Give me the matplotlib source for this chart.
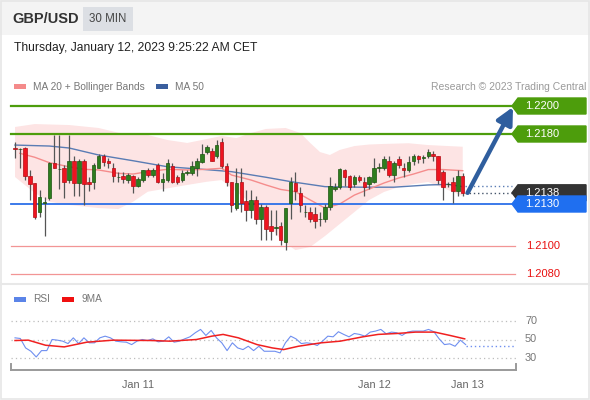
import matplotlib
matplotlib.use("Agg")
import matplotlib.pyplot as plt
from matplotlib.patches import Polygon, Rectangle
from matplotlib.lines import Line2D
import numpy as np

plt.rcParams['font.family'] = ['Liberation Sans', 'DejaVu Sans']

# 30 min candles, GBP/USD
opens = [1.2170, 1.2169, 1.2170, 1.2150, 1.2145, 1.2124, 1.2131, 1.2134, 1.2159, 1.2155,
         1.2156, 1.2147, 1.2161, 1.2145, 1.2161, 1.2146, 1.2146, 1.2156, 1.2164, 1.2161,
         1.2156, 1.2149, 1.2150, 1.2147, 1.2150, 1.2143, 1.2147, 1.2154, 1.2151, 1.2158,
         1.2146, 1.2147, 1.2157, 1.2149, 1.2147, 1.2152, 1.2152, 1.2156, 1.2160, 1.2167,
         1.2168, 1.2164, 1.2174, 1.2157, 1.2146, 1.2127, 1.2146, 1.2132, 1.2126, 1.2133,
         1.2119, 1.2128, 1.2114, 1.2113, 1.2114, 1.2103, 1.2131, 1.2145, 1.2138, 1.2124,
         1.2124, 1.2123, 1.2119, 1.2119, 1.2128, 1.2141, 1.2142, 1.2154, 1.2150, 1.2144,
         1.2149, 1.2146, 1.2144, 1.2146, 1.2156, 1.2156, 1.2161, 1.2151, 1.2162, 1.2156,
         1.2154, 1.2161, 1.2164, 1.2163, 1.2164, 1.2166, 1.2164, 1.2153, 1.2144, 1.2146,
         1.2139, 1.2150]
highs = [1.2174, 1.2170, 1.2171, 1.2154, 1.2145, 1.2140, 1.2135, 1.2160, 1.2179, 1.2179,
         1.2158, 1.2179, 1.2164, 1.2162, 1.2162, 1.2149, 1.2159, 1.2166, 1.2166, 1.2163,
         1.2159, 1.2153, 1.2153, 1.2152, 1.2151, 1.2149, 1.2154, 1.2156, 1.2156, 1.2159,
         1.2152, 1.2162, 1.2159, 1.2151, 1.2154, 1.2154, 1.2161, 1.2163, 1.2173, 1.2172,
         1.2170, 1.2176, 1.2177, 1.2159, 1.2146, 1.2156, 1.2156, 1.2140, 1.2140, 1.2136,
         1.2130, 1.2129, 1.2126, 1.2126, 1.2117, 1.2127, 1.2149, 1.2153, 1.2142, 1.2129,
         1.2128, 1.2128, 1.2124, 1.2130, 1.2149, 1.2145, 1.2156, 1.2155, 1.2151, 1.2151,
         1.2151, 1.2149, 1.2150, 1.2163, 1.2159, 1.2164, 1.2164, 1.2161, 1.2164, 1.2159,
         1.2164, 1.2166, 1.2165, 1.2165, 1.2169, 1.2168, 1.2164, 1.2154, 1.2146, 1.2149,
         1.2154, 1.2152]
lows = [1.2163, 1.2156, 1.2147, 1.2133, 1.2119, 1.2121, 1.2107, 1.2133, 1.2156, 1.2141,
        1.2134, 1.2145, 1.2136, 1.2136, 1.2129, 1.2139, 1.2141, 1.2156, 1.2157, 1.2156,
        1.2146, 1.2146, 1.2145, 1.2145, 1.2138, 1.2142, 1.2146, 1.2149, 1.2149, 1.2145,
        1.2139, 1.2146, 1.2145, 1.2144, 1.2146, 1.2151, 1.2151, 1.2150, 1.2159, 1.2166,
        1.2161, 1.2163, 1.2156, 1.2143, 1.2124, 1.2126, 1.2124, 1.2118, 1.2120, 1.2116,
        1.2104, 1.2104, 1.2104, 1.2108, 1.2101, 1.2097, 1.2119, 1.2133, 1.2124, 1.2121,
        1.2117, 1.2113, 1.2114, 1.2117, 1.2126, 1.2139, 1.2141, 1.2143, 1.2140, 1.2142,
        1.2146, 1.2136, 1.2141, 1.2145, 1.2153, 1.2154, 1.2149, 1.2146, 1.2156, 1.2149,
        1.2153, 1.2158, 1.2159, 1.2159, 1.2163, 1.2161, 1.2144, 1.2133, 1.2142, 1.2131,
        1.2136, 1.2136]
closes = [1.2169, 1.2169, 1.2150, 1.2144, 1.2121, 1.2135, 1.2131, 1.2159, 1.2156, 1.2155,
          1.2146, 1.2161, 1.2145, 1.2161, 1.2144, 1.2144, 1.2158, 1.2164, 1.2160, 1.2159,
          1.2150, 1.2149, 1.2148, 1.2151, 1.2143, 1.2148, 1.2154, 1.2151, 1.2154, 1.2146,
          1.2148, 1.2159, 1.2146, 1.2146, 1.2152, 1.2153, 1.2157, 1.2161, 1.2166, 1.2171,
          1.2161, 1.2172, 1.2157, 1.2146, 1.2129, 1.2145, 1.2131, 1.2126, 1.2133, 1.2119,
          1.2128, 1.2112, 1.2111, 1.2113, 1.2104, 1.2127, 1.2146, 1.2139, 1.2129, 1.2124,
          1.2119, 1.2118, 1.2119, 1.2128, 1.2143, 1.2142, 1.2155, 1.2149, 1.2142, 1.2149,
          1.2147, 1.2142, 1.2149, 1.2156, 1.2156, 1.2162, 1.2151, 1.2159, 1.2158, 1.2154,
          1.2160, 1.2164, 1.2162, 1.2163, 1.2167, 1.2164, 1.2147, 1.2142, 1.2144, 1.2139,
          1.2150, 1.2138]

# moving averages and bands, sampled at candle numbers
ma50_at = [0, 7, 11, 17, 24, 31, 38, 44, 51, 56, 63, 70, 77, 84, 88, 91]
ma50 = [1.21721, 1.21714, 1.21700, 1.21650, 1.21609, 1.21566, 1.21548, 1.21531,
        1.21491, 1.21460, 1.21424, 1.21420, 1.21420, 1.21436, 1.21440, 1.21424]
ma20_at = [1, 4, 7, 11, 14, 17, 21, 24, 27, 31, 35, 39, 42, 44, 48, 51, 54, 57, 60,
           63, 66, 69, 72, 75, 78, 81, 84, 87, 91]
ma20 = [1.21662, 1.21634, 1.21595, 1.21566, 1.21548, 1.21543, 1.21519, 1.21514, 1.21531,
        1.21548, 1.21543, 1.21548, 1.21555, 1.21507, 1.21471, 1.21436, 1.21404, 1.21388,
        1.21329, 1.21271, 1.21300, 1.21364, 1.21407, 1.21450, 1.21486, 1.21514, 1.21546,
        1.21546, 1.21538]
bb_up_at = [0, 4, 11, 17, 21, 24, 27, 31, 35, 39, 42, 45, 48, 51, 55, 58, 60, 62, 64,
            66, 69, 72, 75, 80, 84, 88, 91]
bb_up = [1.21850, 1.21871, 1.21864, 1.21843, 1.21809, 1.21793, 1.21793, 1.21757, 1.21736,
         1.21764, 1.21786, 1.21771, 1.21807, 1.21836, 1.21843, 1.21807, 1.21736, 1.21671,
         1.21650, 1.21686, 1.21714, 1.21725, 1.21729, 1.21734, 1.21721, 1.21714, 1.21709]
bb_lo_at = [0, 4, 7, 11, 17, 21, 24, 27, 31, 35, 39, 42, 44, 48, 51, 54, 57, 60, 63,
            66, 69, 72, 75, 78, 81, 84, 88, 91]
bb_lo = [1.21493, 1.21379, 1.21316, 1.21293, 1.21271, 1.21264, 1.21316, 1.21388, 1.21412,
         1.21436, 1.21459, 1.21471, 1.21414, 1.21307, 1.21186, 1.21043, 1.20971, 1.20993,
         1.21071, 1.21157, 1.21243, 1.21329, 1.21386, 1.21421, 1.21443, 1.21457, 1.21400,
         1.21357]

# key levels
resist = [1.2200, 1.2180]
supports = [1.2100, 1.2080]
pivot = 1.2130
last_price = 1.2138

# RSI panel
rsi = [51.8, 51.1, 40.9, 37.3, 31.1, 38.0, 38.0, 50.0, 49.3, 48.2,
       45.6, 51.8, 45.6, 51.8, 46.4, 46.4, 51.8, 53.6, 51.8, 48.2,
       47.5, 47.1, 44.5, 48.2, 50.0, 48.9, 50.7, 47.5, 48.2, 52.9,
       47.1, 48.2, 50.7, 52.9, 57.3, 60.9, 54.4, 59.8, 51.8, 46.4,
       38.0, 46.4, 40.9, 39.1, 42.7, 38.0, 42.7, 37.3, 37.3, 37.3,
       35.5, 46.4, 53.6, 50.7, 45.6, 46.4, 45.6, 43.5, 48.2, 53.6,
       52.9, 58.4, 55.5, 52.9, 56.5, 55.5, 53.6, 58.0, 59.1, 60.9,
       56.2, 58.0, 57.3, 54.4, 58.0, 59.1, 59.1, 59.1, 60.9, 58.4,
       50.7, 44.5, 45.3, 42.7, 49.3, 44.5]
rsi_ma_at = [0, 2.7, 6.2, 10, 14.6, 20, 27.7, 31.5, 36.9, 40, 42.3, 45.4, 49.2, 52.3,
             54.6, 57.6, 62.2, 66.1, 70.7, 73.8, 77.6, 81.4, 85.3, 88.4, 91.4]
rsi_ma = [48.9, 49.3, 43.8, 42.0, 47.1, 49.3, 48.9, 48.2, 50.0, 53.6, 55.5, 51.8, 44.5,
          40.9, 39.1, 42.7, 46.4, 48.2, 52.9, 55.5, 56.5, 58.0, 58.0, 54.4, 50.7]
rsi_levels = [70, 50, 30]
day_ticks = [25.0, 73.0, 91.9]
day_labels = ["Jan 11", "Jan 12", "Jan 13"]

W, H = 590, 400
X0, SLOT = 15, 4.92          # pixel of first candle, pixels per candle
PXP = 14000.0                # pixels per 1.0 of price

fig = plt.figure(figsize=(W / 100, H / 100), dpi=100)
fig.patch.set_facecolor('white')


def px_axes(x0, y0, x1, y1):
    return fig.add_axes([x0 / W, 1 - y1 / H, (x1 - x0) / W, (y1 - y0) / H])


def idx(px):
    return (px - X0) / SLOT


def frect(x0, y0, x1, y1, color):
    fig.patches.append(Rectangle((x0 / W, 1 - y1 / H), (x1 - x0) / W, (y1 - y0) / H,
                                 transform=fig.transFigure, color=color, lw=0))


# header
frect(0, 0, W, 35, '#f4f4f4')
frect(83, 7, 133, 31, '#dcdfe4')
fig.text(12 / W, 1 - 19 / H, 'GBP/USD', fontsize=10.5, weight='bold', va='center', color='#333333')
fig.text(108 / W, 1 - 19 / H, '30 MIN', fontsize=8.3, ha='center', va='center', color='#444444')
fig.text(14 / W, 1 - 48 / H, 'Thursday, January 12, 2023 9:25:22 AM CET', fontsize=8.7,
         va='center', color='#222222')
frect(14, 84, 26, 89, '#f48a8a')
fig.text(33 / W, 1 - 86.5 / H, 'MA 20 + Bollinger Bands', fontsize=7.3, va='center', color='#777777')
frect(156, 84, 168, 89, '#3a5f9e')
fig.text(175 / W, 1 - 86.5 / H, 'MA 50', fontsize=7.3, va='center', color='#777777')
fig.text(586 / W, 1 - 86.5 / H, 'Research \u00a9 2023 Trading Central', fontsize=7.5, ha='right',
         va='center', color='#9a9a9a')
fig.add_artist(Line2D([0, 1], [1 - 284 / H] * 2, color='#e8e8e8', lw=1.5))
fig.patches.append(Rectangle((0.001, 0.002), 0.997, 0.996, transform=fig.transFigure,
                             fill=False, ec='#e6e6e6', lw=1.2))
frect(14, 297, 26, 302, '#5b84e8')
fig.text(33 / W, 1 - 299.5 / H, 'RSI', fontsize=7.3, va='center', color='#777777')
frect(62, 297, 74, 302, '#f01010')
fig.text(81 / W, 1 - 299.5 / H, '9MA', fontsize=7.3, va='center', color='#777777')

# ---- price panel
ax = px_axes(11, 95, 516, 280)
ax.set_xlim(idx(11), idx(516))
ax.set_ylim(1.2200 - 174 / PXP, 1.2200 + 11 / PXP)
ax.axis('off')

ax.fill(np.r_[bb_up_at, bb_lo_at[::-1]], np.r_[bb_up, bb_lo[::-1]], color='#fde4e4', lw=0, zorder=1)
ax.plot(ma50_at, ma50, color='#5a7cb4', lw=1.0, zorder=2)
ax.plot(ma20_at, ma20, color='#f58c8c', lw=1.0, zorder=2)

n = len(closes)
xs = np.arange(n)
o = np.array(opens); c = np.array(closes)
ax.vlines(xs, lows, highs, color='#555555', lw=0.9, zorder=3)
up = c >= o
bottom = np.minimum(o, c)
height = np.maximum(np.abs(c - o), 0.00003)
ax.bar(xs[up], height[up], bottom=bottom[up], width=0.72, color='#2e7d1e', ec='#1c5410',
       lw=0.5, zorder=4)
ax.bar(xs[~up], height[~up], bottom=bottom[~up], width=0.72, color='#ee1420', ec='#b00d14',
       lw=0.5, zorder=4)

# levels
bx0, bx1 = idx(512), idx(586)
bh = 8 / PXP
notch = 6 / SLOT


def tag(y, face, text_color='white'):
    pts = [(bx0, y), (bx0 + notch, y + bh), (bx1, y + bh), (bx1, y - bh), (bx0 + notch, y - bh)]
    ax.add_patch(Polygon(pts, closed=True, color=face, clip_on=False, zorder=6))
    ax.text(idx(525), y, f'{y:.4f}', color=text_color, fontsize=8, va='center',
            clip_on=False, zorder=7)


for lv in resist:
    ax.plot([idx(11), bx0], [lv, lv], color='#4d9d0c', lw=1.6, zorder=2, clip_on=False)
    tag(lv, '#4d9d0c')
for lv in supports:
    ax.plot([idx(11), idx(515)], [lv, lv], color='#f29595', lw=0.9, zorder=2, clip_on=False)
    ax.text(idx(526), lv, f'{lv:.4f}', color='#e81010', fontsize=8, va='center', clip_on=False)

ax.plot([n - 0.6, bx0], [last_price, last_price], color='#44546a', lw=1.0, ls=(0, (1, 2)),
        zorder=2, clip_on=False)
ax.plot([n - 0.6, bx0], [ma50[-1] + 0.00003, ma50[-1] + 0.00003], color='#5a7cb4', lw=1.0,
        ls=(0, (1, 2)), zorder=2, clip_on=False)
tag(last_price, '#333333')
ax.plot([idx(11), idx(515)], [pivot, pivot], color='#2c6fe8', lw=1.3, zorder=2, clip_on=False)
tag(pivot, '#1f6ff0')

ax.annotate('', xy=(idx(513), resist[0] - 1 / PXP), xytext=(n, last_price),
            arrowprops=dict(arrowstyle='-|>,head_length=1.0,head_width=0.5', color='#2f5e9e',
                            lw=3.2, shrinkA=0, shrinkB=0), annotation_clip=False, zorder=8)

# ---- RSI panel
rx = px_axes(11, 305, 516, 370)
rx.set_xlim(idx(11), idx(516))
rx.set_ylim(30 - 12 / 0.925, 70 + 16 / 0.925)
for s in ['top', 'right', 'left']:
    rx.spines[s].set_visible(False)
rx.spines['bottom'].set_color('#9a9a9a')
rx.spines['bottom'].set_linewidth(1.4)
rx.set_yticks([])
for lv in rsi_levels:
    rx.axhline(lv, color='#bdbdbd', lw=0.9, ls=(0, (1, 2.5)), zorder=1)
    rx.text(1 + 9 / 505, lv, str(lv), transform=rx.get_yaxis_transform(), fontsize=7.8,
            va='center', color='#777777')
rsi_x = np.linspace(0, 91.6, len(rsi))
rx.plot(rsi_x, rsi, color='#6f8ff0', lw=0.8, zorder=2)
rx.plot([rsi_x[-1], idx(516)], [rsi[-1] - 1, rsi[-1] - 1], color='#6f8ff0', lw=1.0,
        ls=(0, (1, 2)), zorder=2)
rx.plot(rsi_ma_at, rsi_ma, color='#f02020', lw=1.1, zorder=3)
for xe in (0, 1):
    rx.plot([xe, xe], [0, 0.09], transform=rx.transAxes, color='#9a9a9a', lw=1.4,
            clip_on=False)
rx.set_xticks(day_ticks)
rx.set_xticklabels(day_labels)
rx.tick_params(axis='x', length=0, pad=7, labelsize=7.8, labelcolor='#666666')

fig.savefig('out.png', dpi=100, facecolor='white')
